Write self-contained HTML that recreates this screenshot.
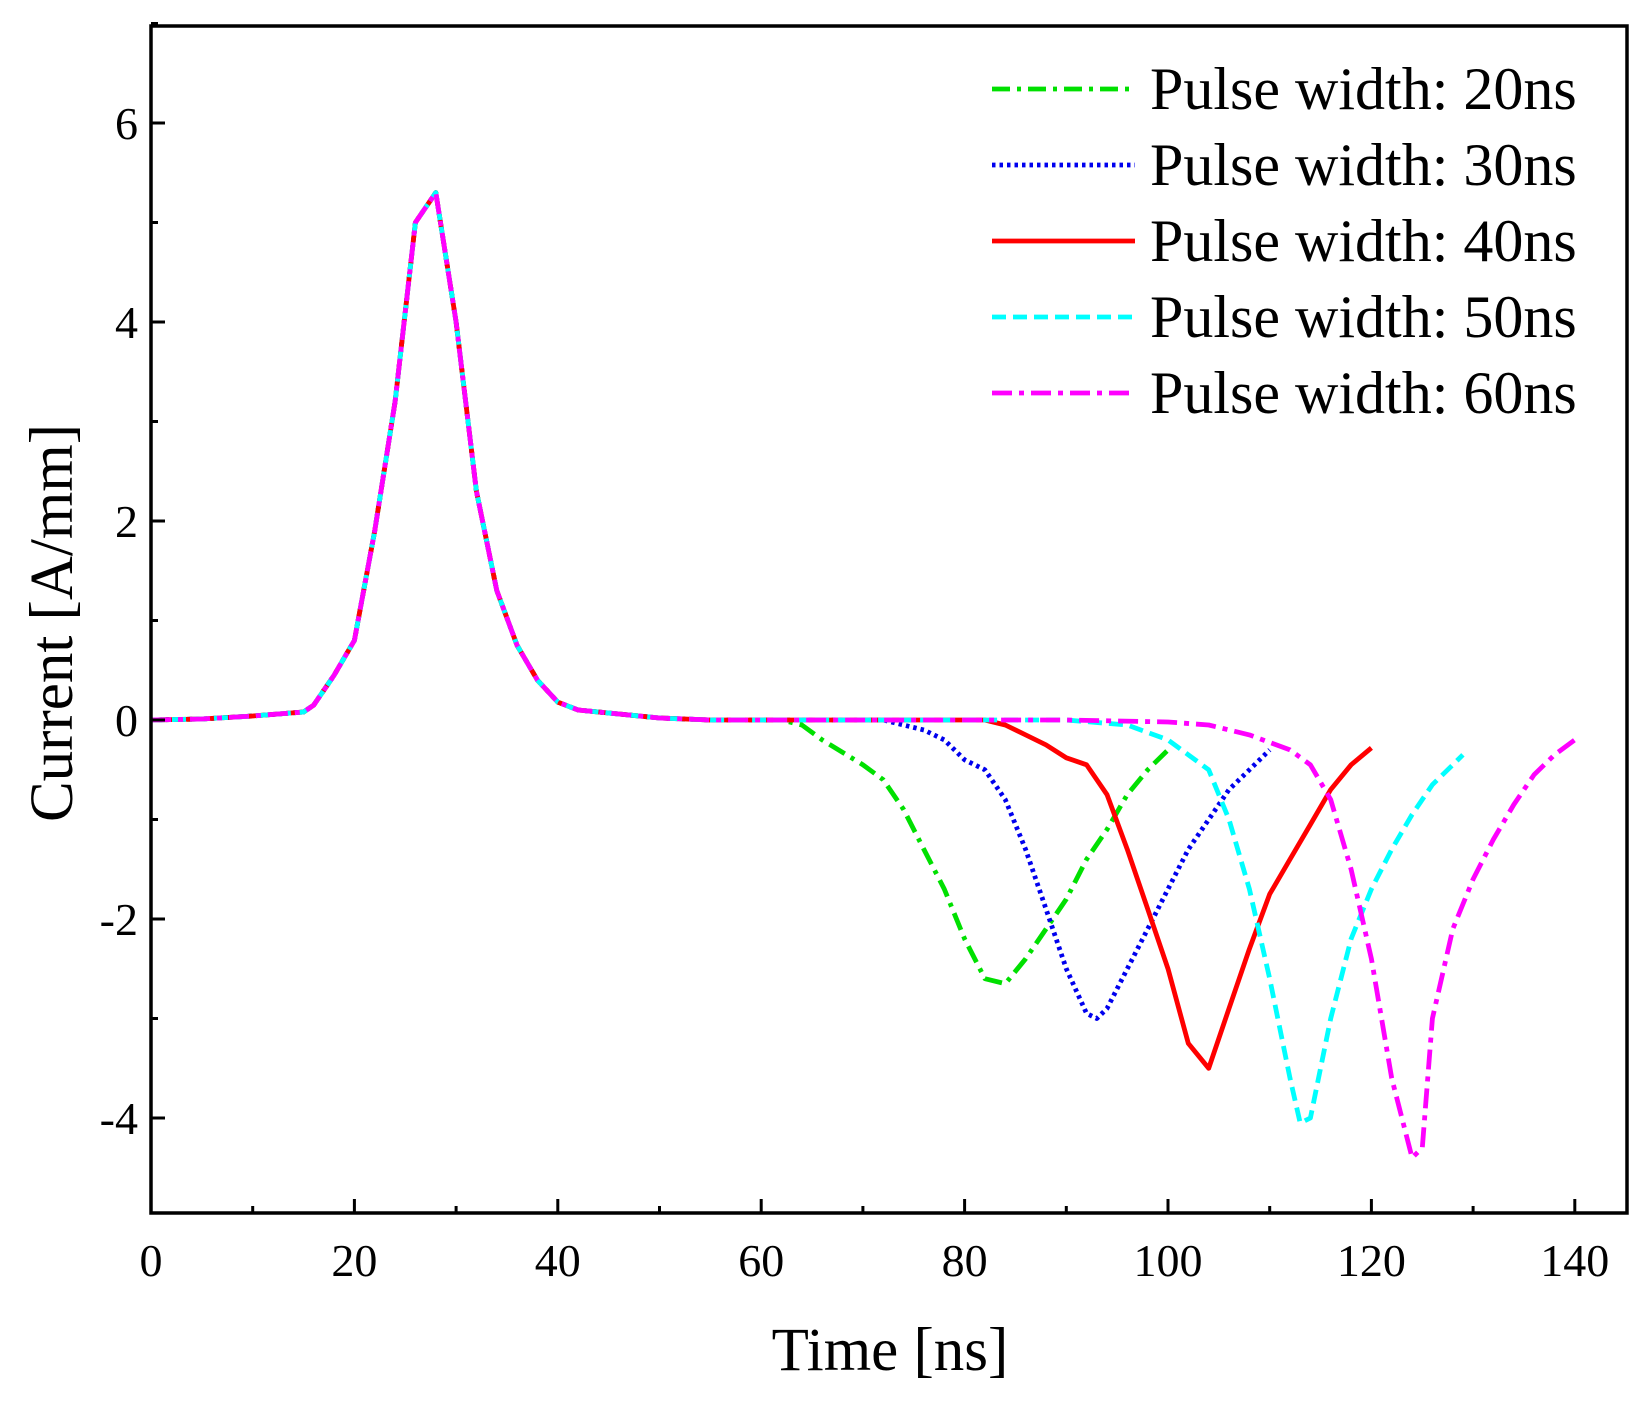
<!DOCTYPE html>
<html><head><meta charset="utf-8"><style>
html,body{margin:0;padding:0;background:#fff;}
svg{display:block;font-family:"Liberation Serif",serif;}
</style></head><body>
<svg id="s" width="1647" height="1405" viewBox="0 0 1647 1405" xmlns="http://www.w3.org/2000/svg">
<rect width="1647" height="1405" fill="#fff"/>
<g id="plot"></g>
<rect x="151" y="26" width="1476" height="1187" fill="none" stroke="#000" stroke-width="3.5"/>
<g id="ticks" stroke="#000" stroke-width="3"></g>
<g id="labels" font-size="46" fill="#000"></g>
<text x="890" y="1370" font-size="61" text-anchor="middle">Time [ns]</text>
<text transform="translate(72,623) rotate(-90)" font-size="61" text-anchor="middle">Current [A/mm]</text>
<g id="legend" font-size="60"></g>
</svg>
<script>
const X=t=>151+t*10.17, Y=v=>720-v*99.5;
const ns="http://www.w3.org/2000/svg";
function el(p,tag,a,txt){const e=document.createElementNS(ns,tag);for(const k in a)e.setAttribute(k,a[k]);if(txt!==undefined)e.textContent=txt;document.getElementById(p).appendChild(e);}
const B=1213;
for(let t=0;t<=140;t+=10){const M=t%20==0;el('ticks','line',{x1:X(t),x2:X(t),y1:B,y2:B-(M?14:7)});if(M)el('labels','text',{x:X(t),y:1276,'text-anchor':'middle'},String(t));}
for(let v=-4;v<=7;v++){const M=v%2==0;el('ticks','line',{x1:151,x2:151+(M?14:7),y1:Y(v),y2:Y(v)});if(M)el('labels','text',{x:138,y:Y(v)+16,'text-anchor':'end'},String(v));}
const base=[[0,0],[5,0.01],[10,0.04],[15,0.08],[16,0.15],[18,0.45],[20,0.8],[22,1.9],[24,3.2],[26,5.0],[28,5.3],[30,4.0],[32,2.3],[34,1.3],[36,0.75],[38,0.4],[40,0.18],[42,0.1],[50,0.02],[55,0],[60,0]];
const S={
g:[[62,0],[64,-0.05],[66,-0.2],[70,-0.45],[72,-0.6],[74,-0.9],[76,-1.3],[78,-1.7],[80,-2.2],[82,-2.6],[84,-2.65],[86,-2.4],[88,-2.1],[90,-1.8],[92,-1.4],[94,-1.1],[96,-0.75],[98,-0.5],[100,-0.3]],
b:[[72,0],[76,-0.1],[78,-0.2],[80,-0.4],[82,-0.5],[84,-0.8],[86,-1.3],[88,-1.9],[90,-2.5],[92,-2.95],[93,-3.0],[94,-2.9],[96,-2.5],[98,-2.1],[100,-1.7],[102,-1.3],[104,-1.0],[106,-0.7],[108,-0.5],[110,-0.3]],
r:[[82,0],[84,-0.05],[86,-0.15],[88,-0.25],[90,-0.38],[92,-0.45],[94,-0.75],[96,-1.3],[98,-1.9],[100,-2.5],[102,-3.25],[104,-3.5],[106,-2.9],[108,-2.3],[110,-1.75],[112,-1.4],[114,-1.05],[116,-0.7],[118,-0.45],[120,-0.28]],
c:[[90,0],[96,-0.05],[100,-0.2],[102,-0.35],[104,-0.5],[106,-1.0],[108,-1.7],[110,-2.6],[112,-3.6],[113,-4.05],[114,-4.0],[116,-3.0],[118,-2.2],[120,-1.7],[122,-1.3],[124,-0.95],[126,-0.65],[128,-0.45],[129,-0.35]],
m:[[90,0],[100,-0.02],[104,-0.05],[108,-0.15],[112,-0.3],[114,-0.45],[116,-0.8],[118,-1.5],[120,-2.4],[122,-3.6],[124,-4.4],[125,-4.3],[126,-3.0],[128,-2.1],[130,-1.6],[132,-1.2],[134,-0.85],[136,-0.55],[138,-0.35],[140,-0.2]]};
const st={g:['#00e000','18,7,4,7'],b:['#0000ee','3.5,4'],r:['#ff0000',''],c:['#00ffff','14,7'],m:['#ff00ff','20,7,5,7']};
const path=pts=>'M'+pts.map(p=>X(p[0]).toFixed(1)+','+Y(p[1]).toFixed(1)).join('L');
['g','b','r','c','m'].forEach(k=>{const pts=base.concat(S[k]);el('plot','path',{d:path(pts),fill:'none',stroke:st[k][0],'stroke-width':4.8,'stroke-dasharray':st[k][1],'stroke-linejoin':'round'});});
const names=['20','30','40','50','60'];
['g','b','r','c','m'].forEach((k,i)=>{const y=89+i*76;el('legend','line',{x1:992,x2:1135,y1:y,y2:y,stroke:st[k][0],'stroke-width':4.8,'stroke-dasharray':st[k][1]});el('legend','text',{x:1150,y:y+20},'Pulse width: '+names[i]+'ns');});
</script>
</body></html>
